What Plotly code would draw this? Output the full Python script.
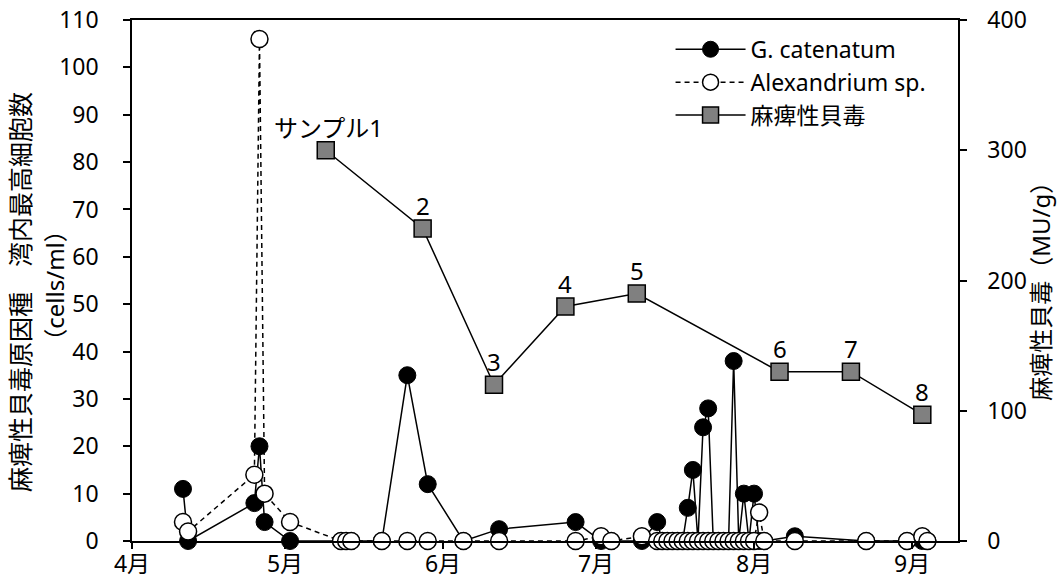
import plotly.graph_objects as go
from plotly.subplots import make_subplots

YEAR = 2021

# Plankton survey: sampling dates and maximum cell counts in the bay (cells/ml)
cell_dates = [
    "04-11", "04-12", "04-25", "04-26", "04-27", "05-02",
    "05-12", "05-13", "05-14", "05-20", "05-25", "05-29",
    "06-05", "06-12", "06-27", "07-02", "07-04", "07-10", "07-13",
    "07-14", "07-15", "07-16", "07-17", "07-18", "07-19", "07-20",
    "07-21", "07-22", "07-23", "07-24", "07-25", "07-26", "07-27",
    "07-28", "07-29", "07-30", "07-31", "08-01", "08-02", "08-03",
    "08-09", "08-23", "08-31", "09-03", "09-04",
]
g_catenatum = [
    11, 0, 8, 20, 4, 0,
    0, 0, 0, 0, 35, 12,
    0, 2.5, 4, 0, 0, 0, 4,
    0, 0, 0, 0, 0, 7, 15,
    0, 24, 28, 0, 0, 0, 0,
    38, 0, 10, 0, 10, 0, 0,
    1, 0, 0, 0, 0,
]
alexandrium = [
    4, 2, 14, 106, 10, 4,
    0, 0, 0, 0, 0, 0,
    0, 0, 0, 1, 0, 1, 0,
    0, 0, 0, 0, 0, 0, 0,
    0, 0, 0, 0, 0, 0, 0,
    0, 0, 0, 0, 0, 6, 0,
    0, 0, 0, 1, 0,
]

# Shellfish toxicity (MU/g) per sample
psp_dates = ["05-09", "05-28", "06-11", "06-25", "07-09", "08-06", "08-20", "09-03"]
psp_values = [300, 240, 120, 180, 190, 130, 130, 97]
psp_labels = ["サンプル1", "2", "3", "4", "5", "6", "7", "8"]

month_ticks = ["04-01", "05-01", "06-01", "07-01", "08-01", "09-01"]
month_labels = ["4月", "5月", "6月", "7月", "8月", "9月"]

left_ticks = list(range(0, 111, 10))
right_ticks = list(range(0, 401, 100))


def to_date(md):
    return f"{YEAR}-{md}"


FONT = "Noto Sans, Noto Sans CJK JP"
FS = 23

fig = make_subplots(specs=[[{"secondary_y": True}]])

fig.add_trace(
    go.Scatter(
        x=[to_date(d) for d in cell_dates], y=g_catenatum,
        name="G. catenatum", mode="lines+markers",
        line=dict(color="black", width=1.5),
        marker=dict(symbol="circle", size=17, color="black",
                    line=dict(color="black", width=1)),
        cliponaxis=False,
    ),
    secondary_y=False,
)
fig.add_trace(
    go.Scatter(
        x=[to_date(d) for d in cell_dates], y=alexandrium,
        name="Alexandrium sp.", mode="lines+markers",
        line=dict(color="black", width=1.5, dash="5px,4px"),
        marker=dict(symbol="circle", size=17, color="white",
                    line=dict(color="black", width=1.5)),
        cliponaxis=False,
    ),
    secondary_y=False,
)
fig.add_trace(
    go.Scatter(
        x=[to_date(d) for d in psp_dates], y=psp_values,
        name="麻痺性貝毒", mode="lines+markers",
        line=dict(color="black", width=1.5),
        marker=dict(symbol="square", size=17, color="#808080",
                    line=dict(color="black", width=1.5)),
        cliponaxis=False,
    ),
    secondary_y=True,
)

# sample number labels above the toxicity markers
for d, v, lab in zip(psp_dates, psp_values, psp_labels):
    fig.add_annotation(
        x=to_date(d), y=v, xref="x", yref="y2", text=lab,
        showarrow=False, yshift=23, xshift=3 if len(lab) > 1 else 0,
        font=dict(family=FONT, size=24, color="black"),
    )

# axis titles
fig.add_annotation(
    xref="paper", yref="paper", x=0, y=0.478, xshift=-112,
    text="麻痺性貝毒原因種　湾内最高細胞数", textangle=-90,
    showarrow=False, xanchor="center", yanchor="middle",
    font=dict(family=FONT, size=25, color="black"),
)
fig.add_annotation(
    xref="paper", yref="paper", x=0, y=0.49, xshift=-77,
    text="（cells/ml）", textangle=-90,
    showarrow=False, xanchor="center", yanchor="middle",
    font=dict(family=FONT, size=24, color="black"),
)
fig.add_annotation(
    xref="paper", yref="paper", x=1, y=0.49, xshift=83,
    text="麻痺性貝毒（MU/g）", textangle=-90,
    showarrow=False, xanchor="center", yanchor="middle",
    font=dict(family=FONT, size=24, color="black"),
)

axis_common = dict(
    showgrid=False, zeroline=False, showline=True, automargin=False,
    linecolor="black", linewidth=1.5,
    ticks="outside", tickcolor="black", tickwidth=1.5,
    tickfont=dict(family=FONT, size=FS, color="black"),
)

fig.update_xaxes(
    type="date", domain=[0, 1],
    range=[to_date("04-01"), to_date("09-10")],
    tickvals=[to_date(m) for m in month_ticks],
    ticktext=month_labels,
    ticklen=6, mirror=True, ticklabelstandoff=-4,
    **axis_common,
)
fig.update_yaxes(
    range=[0, 110], tickvals=left_ticks, ticklen=7, ticklabelstandoff=20,
    secondary_y=False, **axis_common,
)
fig.update_yaxes(
    range=[0, 400], tickvals=right_ticks, ticklen=7, ticklabelstandoff=16,
    secondary_y=True, **axis_common,
)

fig.update_layout(
    width=1059, height=587,
    margin=dict(l=132, r=101, t=20, b=46),
    paper_bgcolor="white", plot_bgcolor="white",
    font=dict(family=FONT, size=FS, color="black"),
    showlegend=True,
    legend=dict(
        x=0.652, y=0.985, xanchor="left", yanchor="top",
        bgcolor="rgba(0,0,0,0)", borderwidth=0,
        font=dict(family=FONT, size=FS, color="black"),
        itemwidth=70,
    ),
)

fig.write_html("out.html")
